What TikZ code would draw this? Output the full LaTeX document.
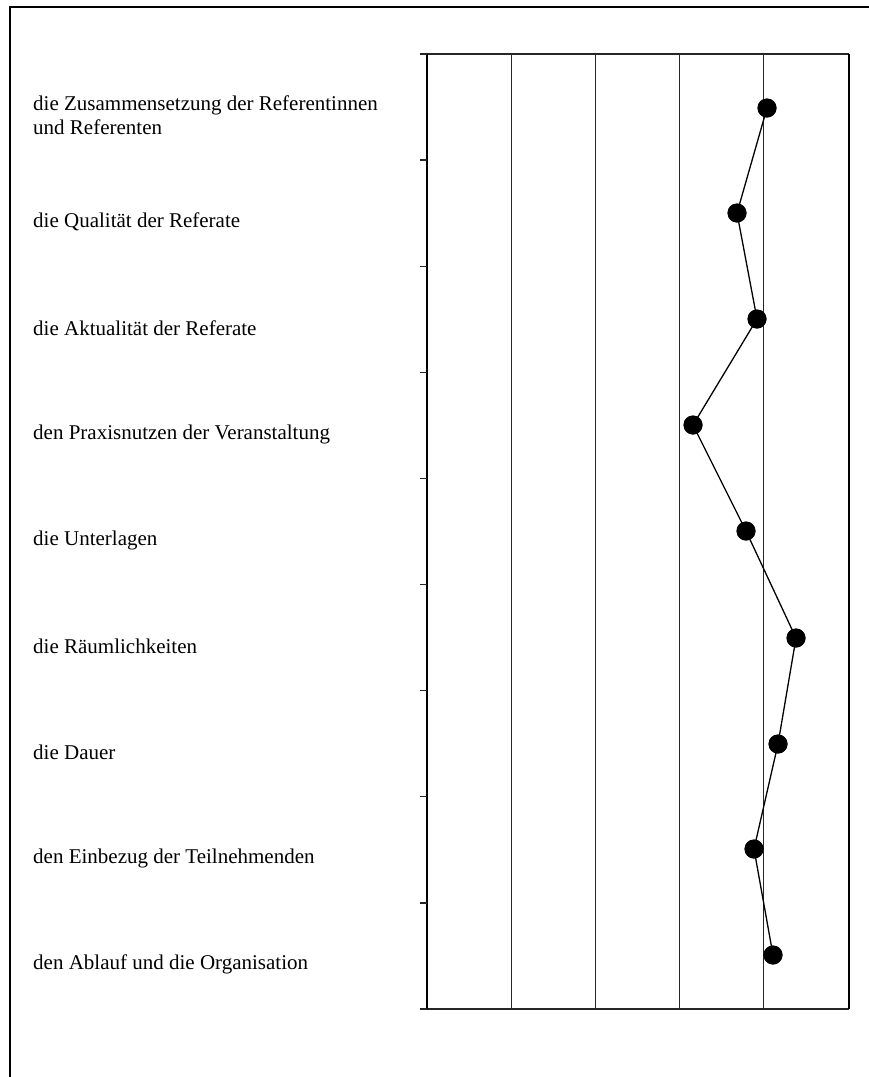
\documentclass[tikz,border=0pt]{standalone}
\usepackage{fontspec}
\setmainfont{Liberation Serif}
\begin{document}
\begin{tikzpicture}[x=1pt,y=-1pt,
  frameline/.style={line width=2.5pt,black},
  gridline/.style={line width=1.3pt,black!85},
  axisline/.style={line width=1.8pt,black},
  dataline/.style={line width=1.3pt,black},
  dot/.style={circle,fill=black,inner sep=0pt,minimum size=19pt},
  lab/.style={anchor=west,align=left,font=\fontsize{21}{24}\selectfont,inner sep=0pt}]
\useasboundingbox (0,0) rectangle (869,1077);
% outer frame
\draw[frameline] (10,7) rectangle (880,1090);
% grid
\foreach \x in {511.5,595.5,679.5,763.5} \draw[gridline] (\x,54) -- (\x,1009);
\draw[gridline] (427,54) -- (849,54);
\draw[gridline] (427,1009) -- (849,1009);
\draw[line width=2.6pt] (849,54) -- (849,1009);
\draw[axisline] (427,54) -- (427,1009);
\foreach \k in {0,...,9} \draw[gridline] (420,54+106.11*\k) -- (427,54+106.11*\k);
% labels
\node[lab] (l1) at (33,115) {die Zusammensetzung der Referentinnen\\und Referenten};
\node[lab] (l2) at (33,222) {die Qualität der Referate};
\node[lab] (l3) at (33,328) {die Aktualität der Referate};
\node[lab] (l4) at (33,434) {den Praxisnutzen der Veranstaltung};
\node[lab] (l5) at (33,540) {die Unterlagen};
\node[lab] (l6) at (33,646) {die Räumlichkeiten};
\node[lab] (l7) at (33,752) {die Dauer};
\node[lab] (l8) at (33,858) {den Einbezug der Teilnehmenden};
\node[lab] (l9) at (33,964) {den Ablauf und die Organisation};
% data
\node[dot] (p1) at (767,108) {};
\node[dot] (p2) at (737,213) {};
\node[dot] (p3) at (757,319) {};
\node[dot] (p4) at (693,425) {};
\node[dot] (p5) at (746,531) {};
\node[dot] (p6) at (796,638) {};
\node[dot] (p7) at (778,744) {};
\node[dot] (p8) at (754,849) {};
\node[dot] (p9) at (773,955) {};
\draw[dataline] (p1.center) -- (p2.center) -- (p3.center) -- (p4.center) -- (p5.center) -- (p6.center) -- (p7.center) -- (p8.center) -- (p9.center);
\foreach \i in {1,...,9} \node[dot] at (p\i) {};
\end{tikzpicture}
\end{document}
